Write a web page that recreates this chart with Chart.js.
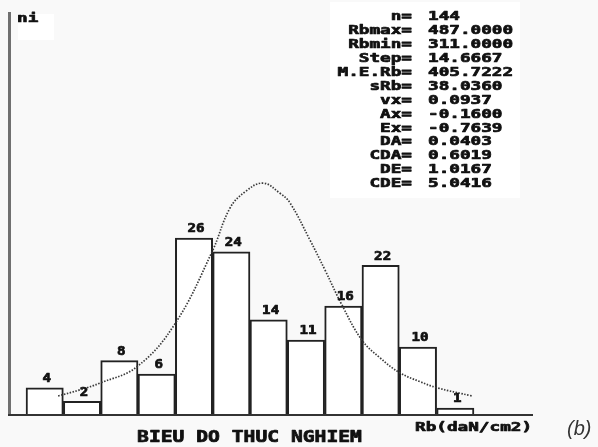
<!DOCTYPE html>
<html>
<head>
<meta charset="utf-8">
<script src="https://cdn.jsdelivr.net/npm/chart.js@4.4.1/dist/chart.umd.min.js"></script>
<style>
  html, body { margin: 0; padding: 0; background: #f9f9f9; }
  #wrap { width: 598px; height: 447px; position: relative; }
</style>
</head>
<body>
<div id="wrap"><canvas id="c" width="598" height="447"></canvas></div>
<script>
// Histogram classes: centre of each Rb class (daN/cm2) and observed counts ni
const binCenters = [318.33, 333.0, 347.67, 362.33, 377.0, 391.67, 406.33, 421.0, 435.67, 450.33, 465.0, 479.67];
const counts = [4, 2, 8, 6, 26, 24, 14, 11, 16, 22, 10, 1];

// Theoretical distribution curve (dotted)
const curveRb = [323.6, 332.2, 340.1, 354.6, 369.5, 384.1, 391.1, 397.0, 404.1, 410.8, 414.7, 422.6, 428.5, 435.1, 443.0, 450.1, 457.9, 465.8, 472.5, 486.2];
const curveNi = [2.8, 3.7, 4.7, 7.1, 13.4, 24.0, 30.4, 32.8, 34.1, 32.6, 31.2, 25.7, 21.3, 16.2, 11.0, 8.4, 6.2, 4.9, 4.0, 2.8];

// Summary statistics block
const statLabels = ['n=', 'Rbmax=', 'Rbmin=', 'Step=', 'M.E.Rb=', 'sRb=', 'vx=', 'Ax=', 'Ex=', 'DA=', 'CDA=', 'DE=', 'CDE='];
const statValues = ['144', '487.0000', '311.0000', '14.6667', '405.7222', '38.0360', '0.0937', '-0.1600', '-0.7639', '0.0403', '0.6019', '1.0167', '5.0416'];

const yTitle = 'ni';
const xTitle = 'Rb(daN/cm2)';
const chartTitle = 'BIEU DO THUC NGHIEM';
const panelTag = '(b)';

const MONO = '"DejaVu Sans Mono", "Liberation Mono", monospace';

// draws text in a horizontally stretched, heavy monospace face
function wideText(ctx, text, x, y, size, sx, align, color) {
  ctx.save();
  ctx.font = 'bold ' + size + 'px ' + MONO;
  ctx.fillStyle = color || '#111';
  ctx.strokeStyle = color || '#111';
  ctx.lineWidth = 0.7;
  ctx.lineJoin = 'round';
  ctx.textBaseline = 'middle';
  ctx.textAlign = 'left';
  const w = ctx.measureText(text).width * sx;
  let x0 = x;
  if (align === 'right') x0 = x - w;
  else if (align === 'center') x0 = x - w / 2;
  ctx.translate(x0, y);
  ctx.scale(sx, 1);
  ctx.fillText(text, 0, 0);
  ctx.strokeText(text, 0, 0);
  ctx.restore();
}

const decor = {
  id: 'decor',
  beforeDraw(chart) {
    const ctx = chart.ctx;
    ctx.save();
    ctx.fillStyle = '#f9f9f9';
    ctx.fillRect(0, 0, chart.width, chart.height);
    ctx.fillStyle = '#ffffff';
    ctx.fillRect(330, 2, 190, 196);
    ctx.fillRect(18, 14, 36, 26);
    ctx.restore();
  },
  afterDatasetsDraw(chart) {
    const ctx = chart.ctx;
    const a = chart.chartArea;
    // axes
    ctx.save();
    ctx.strokeStyle = '#707070';
    ctx.lineWidth = 3;
    ctx.beginPath();
    ctx.moveTo(a.left - 0.5, a.top);
    ctx.lineTo(a.left - 0.5, a.bottom);
    ctx.stroke();
    ctx.strokeStyle = '#333';
    ctx.lineWidth = 2;
    ctx.beginPath();
    ctx.moveTo(a.left - 2, a.bottom);
    ctx.lineTo(a.right, a.bottom);
    ctx.stroke();
    ctx.restore();

    // count labels above bars
    const meta = chart.getDatasetMeta(0);
    meta.data.forEach((bar, i) => {
      wideText(ctx, String(counts[i]), bar.x + 2, bar.y - 9, 12, 1.18, 'center', '#111');
    });

    // statistics block
    statLabels.forEach((lab, i) => {
      const y = 17 + i * 13.9;
      wideText(ctx, lab, 412, y, 13, 1.36, 'right');
      wideText(ctx, statValues[i], 428, y, 13, 1.36, 'left');
    });

    wideText(ctx, yTitle, 17, 18.5, 13, 1.36, 'left');
    wideText(ctx, xTitle, 415, 428, 13, 1.36, 'left');
    wideText(ctx, chartTitle, 249.5, 438.5, 15, 1.31, 'center');

    ctx.save();
    ctx.font = 'italic 20px "Liberation Sans", Arial, sans-serif';
    ctx.fillStyle = '#333';
    ctx.textBaseline = 'middle';
    ctx.textAlign = 'left';
    ctx.fillText(panelTag, 567, 429);
    ctx.restore();
  }
};

new Chart(document.getElementById('c'), {
  data: {
    datasets: [
      {
        type: 'bar',
        data: binCenters.map((x, i) => ({ x: x, y: counts[i] })),
        backgroundColor: '#ffffff',
        borderColor: '#222',
        borderWidth: 2,
        borderSkipped: 'bottom',
        barPercentage: 1,
        categoryPercentage: 1,
        order: 2
      },
      {
        type: 'line',
        data: curveRb.map((x, i) => ({ x: x, y: curveNi[i] })),
        borderColor: '#3a3a3a',
        borderWidth: 1.7,
        borderDash: [1.5, 1.5],
        pointRadius: 0,
        tension: 0.4,
        fill: false,
        order: 1
      }
    ]
  },
  options: {
    responsive: false,
    animation: false,
    layout: { padding: { left: 10, right: 65, top: 12, bottom: 32 } },
    plugins: { legend: { display: false }, tooltip: { enabled: false } },
    scales: {
      x: { type: 'linear', min: 304.7, max: 510.2, display: false, offset: false },
      y: { min: 0, max: 59.26, display: false }
    }
  },
  plugins: [decor]
});
</script>
</body>
</html>
